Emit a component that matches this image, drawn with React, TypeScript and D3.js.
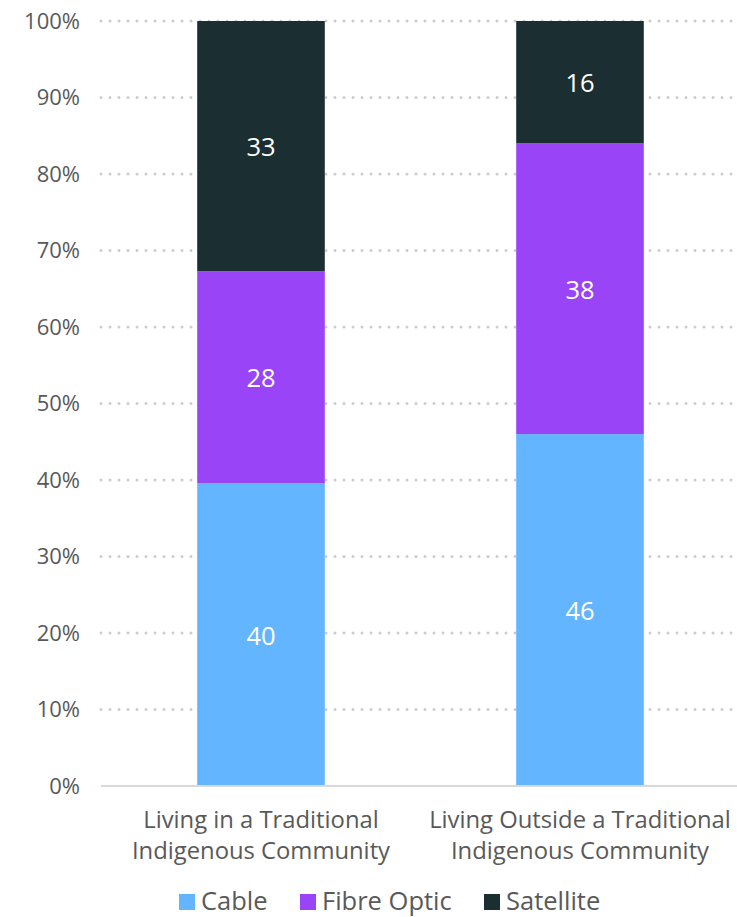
import React from "react";
import * as d3 from "d3";

const categories = [
  ["Living in a Traditional", "Indigenous Community"],
  ["Living Outside a Traditional", "Indigenous Community"],
];
const seriesNames = ["Cable", "Fibre Optic", "Satellite"];
const cable = [39.6, 46.0];
const fibreOptic = [27.7, 38.0];
const satellite = [32.7, 16.0];
const labelCable = ["40", "46"];
const labelFibre = ["28", "38"];
const labelSatellite = ["33", "16"];
const yTicks = [0, 10, 20, 30, 40, 50, 60, 70, 80, 90, 100];
const colors = ["#63B5FF", "#9944F7", "#1B2F33"];

const W = 737;
const H = 917;
const FONT = "'Open Sans', 'Noto Sans', sans-serif";

export default function App() {
  const x = d3
    .scaleBand<number>()
    .domain([0, 1])
    .range([101.5, 739.5])
    .paddingInner(0.6)
    .paddingOuter(0.3);
  const y = d3.scaleLinear().domain([0, 100]).range([786, 21]);

  const rows = [0, 1].map((i) => ({
    idx: i,
    Cable: cable[i],
    "Fibre Optic": fibreOptic[i],
    Satellite: satellite[i],
  }));
  const stack = d3.stack<any>().keys(seriesNames)(rows);
  const labels = [labelCable, labelFibre, labelSatellite];

  const legendItems = [
    { name: "Cable", x: 179 },
    { name: "Fibre Optic", x: 300 },
    { name: "Satellite", x: 484 },
  ];

  return (
    <svg
      width={W}
      height={H}
      style={{ position: "absolute", left: 0, top: 0, background: "#fff" }}
      fontFamily={FONT}
    >
      {yTicks.map((t) => (
        <g key={t}>
          {t > 0 && (
            <line
              x1={101}
              x2={737}
              y1={y(t)}
              y2={y(t)}
              stroke="#CCCCCC"
              strokeWidth={3}
              strokeLinecap="round"
              strokeDasharray="0 9"
            />
          )}
          <text
            x={80}
            y={y(t)}
            dy="0.36em"
            textAnchor="end"
            fontSize={22}
            fill="#595959"
          >
            {t}%
          </text>
        </g>
      ))}
      {stack.map((s, si) =>
        s.map((d, i) => {
          const x0 = x(i)!;
          const y0 = y(d[1]);
          const y1 = y(d[0]);
          return (
            <g key={`${si}-${i}`}>
              <rect
                x={x0}
                y={y0}
                width={x.bandwidth()}
                height={y1 - y0}
                fill={colors[si]}
              />
              <text
                x={x0 + x.bandwidth() / 2}
                y={(y0 + y1) / 2}
                dy="0.4em"
                textAnchor="middle"
                fontSize={25.5}
                fill="#ffffff"
              >
                {labels[si][i]}
              </text>
            </g>
          );
        })
      )}
      <line x1={101} x2={737} y1={y(0)} y2={y(0)} stroke="#D9D9D9" strokeWidth={2} />
      {categories.map((c, i) => (
        <text
          key={i}
          x={x(i)! + x.bandwidth() / 2}
          textAnchor="middle"
          fontSize={23.8}
          fill="#595959"
        >
          <tspan x={x(i)! + x.bandwidth() / 2} y={828}>
            {c[0]}
          </tspan>
          <tspan x={x(i)! + x.bandwidth() / 2} y={859}>
            {c[1]}
          </tspan>
        </text>
      ))}
      {legendItems.map((l, i) => (
        <g key={l.name}>
          <rect x={l.x} y={894} width={16} height={16} fill={colors[i]} />
          <text x={l.x + 22} y={910} fontSize={25.5} fill="#595959">
            {l.name}
          </text>
        </g>
      ))}
    </svg>
  );
}
